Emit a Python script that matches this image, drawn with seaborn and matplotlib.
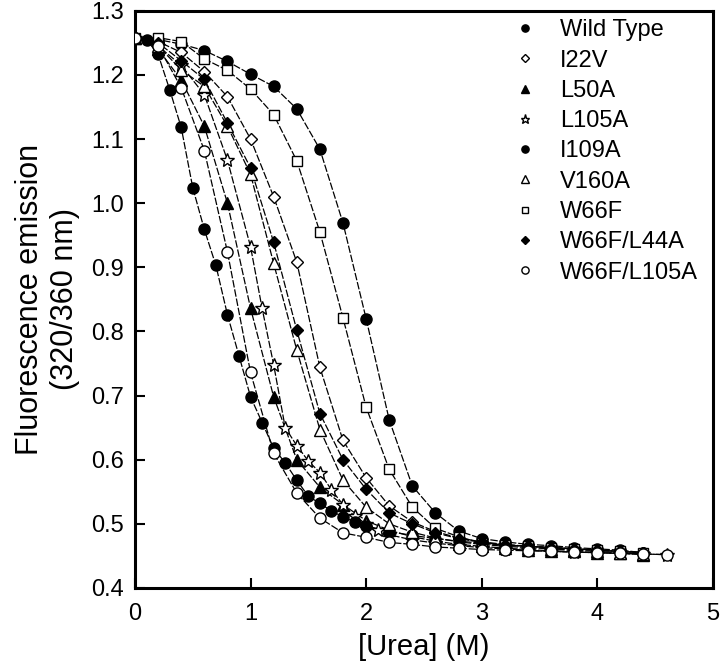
import numpy as np
import pandas as pd
import matplotlib
matplotlib.use("Agg")
import matplotlib.pyplot as plt
from matplotlib.lines import Line2D
import seaborn as sns

# ---- data ----
x_step2 = [0.0, 0.2, 0.4, 0.6, 0.8, 1.0, 1.2, 1.4, 1.6, 1.8, 2.0, 2.2,
           2.4, 2.6, 2.8, 3.0, 3.2, 3.4, 3.6, 3.8, 4.0, 4.2, 4.4]
x_step2_long = x_step2 + [4.6]

wild_type = [1.258, 1.255, 1.248, 1.238, 1.221, 1.201, 1.182, 1.147, 1.084, 0.969, 0.820, 0.662,
             0.559, 0.517, 0.489, 0.477, 0.472, 0.468, 0.466, 0.463, 0.461, 0.459, 0.455]
i22v = [1.258, 1.252, 1.235, 1.205, 1.166, 1.100, 1.010, 0.908, 0.744, 0.630, 0.572, 0.528,
        0.503, 0.488, 0.478, 0.472, 0.468, 0.465, 0.463, 0.461, 0.459, 0.457, 0.455]
l50a = [1.258, 1.240, 1.192, 1.120, 1.000, 0.836, 0.698, 0.600, 0.557, 0.530, 0.505, 0.490,
        0.480, 0.473, 0.468, 0.465, 0.462, 0.460, 0.458, 0.457, 0.455, 0.454, 0.452]
x_l105a = [0.0, 0.2, 0.4, 0.6, 0.8, 1.0, 1.1, 1.2, 1.3, 1.4, 1.5, 1.6, 1.7, 1.8, 1.9, 2.0,
           2.1, 2.2, 2.4, 2.6, 2.8, 3.0, 3.2, 3.4, 3.6, 3.8, 4.0, 4.2, 4.4, 4.6]
l105a = [1.258, 1.245, 1.215, 1.169, 1.067, 0.932, 0.836, 0.748, 0.650, 0.622, 0.598, 0.580,
         0.553, 0.530, 0.512, 0.500, 0.490, 0.483, 0.475, 0.470, 0.466, 0.463, 0.461, 0.459,
         0.457, 0.456, 0.455, 0.454, 0.453, 0.452]
x_i109a = [0.0, 0.1, 0.2, 0.3, 0.4, 0.5, 0.6, 0.7, 0.8, 0.9, 1.0, 1.1, 1.2, 1.3, 1.4, 1.5,
           1.6, 1.7, 1.8, 1.9, 2.0, 2.2, 2.4, 2.6, 2.8, 3.0, 3.2, 3.4, 3.6, 3.8, 4.0, 4.2, 4.4]
i109a = [1.258, 1.255, 1.232, 1.177, 1.118, 1.024, 0.959, 0.903, 0.826, 0.762, 0.698, 0.658,
         0.618, 0.595, 0.568, 0.543, 0.532, 0.520, 0.511, 0.503, 0.497, 0.488, 0.482, 0.477,
         0.473, 0.470, 0.467, 0.465, 0.463, 0.461, 0.459, 0.457, 0.455]
v160a = [1.258, 1.245, 1.208, 1.182, 1.120, 1.045, 0.906, 0.771, 0.647, 0.568, 0.526, 0.500,
         0.487, 0.478, 0.472, 0.468, 0.465, 0.463, 0.461, 0.459, 0.457, 0.455, 0.453]
w66f = [1.258, 1.258, 1.252, 1.225, 1.207, 1.178, 1.138, 1.066, 0.955, 0.821, 0.682, 0.585,
        0.526, 0.493, 0.480, 0.470, 0.467, 0.465, 0.463, 0.461, 0.459, 0.457, 0.455]
w66f_l44a = [1.258, 1.250, 1.222, 1.193, 1.125, 1.055, 0.939, 0.802, 0.672, 0.600, 0.554, 0.517,
             0.500, 0.486, 0.477, 0.471, 0.467, 0.465, 0.463, 0.461, 0.459, 0.457, 0.455]
w66f_l105a = [1.258, 1.245, 1.180, 1.082, 0.924, 0.736, 0.610, 0.548, 0.509, 0.486, 0.479, 0.471,
              0.468, 0.464, 0.462, 0.460, 0.459, 0.458, 0.457, 0.456, 0.455, 0.454, 0.453, 0.452]

series = [
    ("Wild Type", x_step2, wild_type, "o", "black", 8),
    ("I22V", x_step2, i22v, "D", "white", 6.5),
    ("L50A", x_step2, l50a, "^", "black", 8),
    ("L105A", x_l105a, l105a, "*", "white", 10),
    ("I109A", x_i109a, i109a, "o", "black", 8),
    ("V160A", x_step2, v160a, "^", "white", 8),
    ("W66F", x_step2, w66f, "s", "white", 7),
    ("W66F/L44A", x_step2, w66f_l44a, "D", "black", 6.5),
    ("W66F/L105A", x_step2_long, w66f_l105a, "o", "white", 8),
]

sns.set_style("ticks")
plt.rcParams["font.family"] = ["Liberation Sans", "DejaVu Sans"]
plt.rcParams["text.color"] = "black"
plt.rcParams["axes.labelcolor"] = "black"
plt.rcParams["xtick.color"] = "black"
plt.rcParams["ytick.color"] = "black"
plt.rcParams["axes.edgecolor"] = "black"

fig = plt.figure(figsize=(7.2, 6.72), dpi=100)
ax = fig.add_axes([0.1875, 0.125, 0.8025, 0.859])

# fitted-looking dashed lines first, markers on top
for name, xs, ys, mk, fc, ms in series:
    df = pd.DataFrame({"urea": xs, "fl": ys})
    sns.lineplot(data=df, x="urea", y="fl", ax=ax, color="black", lw=0.9,
                 linestyle=(0, (6, 1.5)), zorder=2)
for name, xs, ys, mk, fc, ms in series:
    ax.plot(xs, ys, linestyle="none", marker=mk, ms=ms, mfc=fc, mec="black",
            mew=1.0, zorder=3)

ax.set_xlim(0, 5)
ax.set_ylim(0.4, 1.3)
ax.set_xticks([0, 1, 2, 3, 4, 5])
ax.set_yticks(np.arange(0.4, 1.31, 0.1))
ax.set_yticklabels([f"{v:.1f}" for v in np.arange(0.4, 1.31, 0.1)])
ax.tick_params(axis="x", direction="in", length=7, width=1.5, labelsize=17, pad=10.5)
ax.tick_params(axis="y", direction="in", length=7, width=1.5, labelsize=17, pad=8)
for sp in ax.spines.values():
    sp.set_linewidth(2.2)
ax.set_xlabel("[Urea] (M)", fontsize=21, labelpad=6)
ax.set_ylabel("Fluorescence emission\n(320/360 nm)", fontsize=22, labelpad=8)

handles = [Line2D([], [], linestyle="none", marker=mk, ms=ms * 0.65, mfc=fc,
                  mec="black", mew=1.0, label=name)
           for name, xs, ys, mk, fc, ms in series]
ax.legend(handles=handles, loc="upper left", bbox_to_anchor=(0.659, 0.985),
          frameon=False, fontsize=17, handlelength=0.8, handletextpad=1.08,
          labelspacing=0.35, borderpad=0, borderaxespad=0)

fig.savefig("out.png", dpi=100)
